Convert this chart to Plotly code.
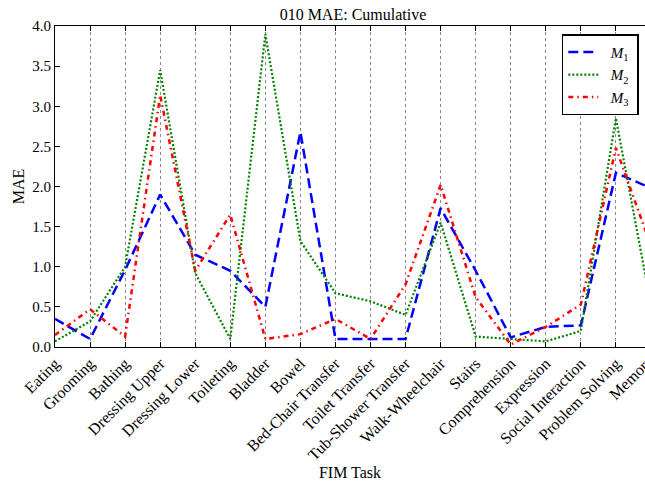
import plotly.graph_objects as go

categories = ["Eating", "Grooming", "Bathing", "Dressing Upper", "Dressing Lower",
              "Toileting", "Bladder", "Bowel", "Bed-Chair Transfer", "Toilet Transfer",
              "Tub-Shower Transfer", "Walk-Wheelchair", "Stairs", "Comprehension",
              "Expression", "Social Interaction", "Problem Solving", "Memory"]

m1 = [0.35, 0.10, 0.96, 1.90, 1.15, 0.95, 0.50, 2.68, 0.10, 0.10, 0.10, 1.73,
      0.95, 0.12, 0.25, 0.27, 2.17, 1.98]
m2 = [0.07, 0.32, 1.00, 3.45, 0.92, 0.10, 3.90, 1.32, 0.67, 0.57, 0.40, 1.55,
      0.13, 0.10, 0.07, 0.20, 2.85, 0.52]
m3 = [0.15, 0.47, 0.13, 3.14, 0.95, 1.65, 0.10, 0.16, 0.35, 0.10, 0.78, 2.02,
      0.62, 0.03, 0.25, 0.53, 2.48, 1.26]

y_ticks = [0.0, 0.5, 1.0, 1.5, 2.0, 2.5, 3.0, 3.5, 4.0]
x_max = 16.83  # visible part of the (cropped) axis

FONT = "Liberation Serif"
TICK_SIZE = 16
NB = "\u00a0\u00a0"

fig = go.Figure()
fig.add_trace(go.Scatter(x=categories, y=m1, mode="lines", name=NB + "<i>M</i><sub>1</sub>\u00a0",
                         line=dict(color="#0000ff", width=2.5, dash="10px,5px")))
fig.add_trace(go.Scatter(x=categories, y=m2, mode="lines", name=NB + "<i>M</i><sub>2</sub>\u00a0",
                         line=dict(color="#008000", width=2.2, dash="2px,2px")))
fig.add_trace(go.Scatter(x=categories, y=m3, mode="lines", name=NB + "<i>M</i><sub>3</sub>\u00a0",
                         line=dict(color="#ff0000", width=2.5, dash="5px,4px,1.5px,4px")))

# last category label falls outside the visible range (cropped like the original)
fig.add_annotation(text=categories[-1], xref="paper", yref="paper",
                   x=(len(categories) - 1) / x_max, y=0, xanchor="right", yanchor="top",
                   textangle=-45, showarrow=False, yshift=-2, xshift=9,
                   font=dict(family=FONT, size=TICK_SIZE, color="black"))

fig.update_layout(
    width=645, height=482,
    margin=dict(l=55, r=0, t=26, b=135),
    paper_bgcolor="white", plot_bgcolor="white",
    font=dict(family=FONT, size=TICK_SIZE, color="black"),
    title=dict(text="010 MAE: Cumulative", x=(len(categories) - 1) / 2 / x_max, xref="paper",
               xanchor="center", y=1 - 14 / 482, yref="container", yanchor="middle",
               font=dict(family=FONT, size=16, color="black")),
    showlegend=True,
    legend=dict(x=0.859, y=0.974, xanchor="left", yanchor="top",
                bordercolor="black", borderwidth=1.5, bgcolor="white",
                font=dict(family=FONT, size=15, color="black"),
                itemwidth=30, tracegroupgap=0),
)
fig.update_xaxes(
    type="category", categoryarray=categories, range=[0, x_max],
    tickangle=-45, ticks="inside", ticklen=5, tickcolor="black",
    showline=True, linecolor="black", linewidth=1, mirror="allticks",
    showgrid=True, gridcolor="#888888", griddash="dot", gridwidth=1,
    tickfont=dict(family=FONT, size=TICK_SIZE, color="black"),
    title=dict(text="FIM Task", font=dict(family=FONT, size=16, color="black"), standoff=3),
    zeroline=False, automargin=False,
)
fig.update_yaxes(
    range=[0, 4.0], tickvals=y_ticks, ticktext=[f"{v:.1f}" for v in y_ticks],
    ticks="inside", ticklen=5, tickcolor="black",
    showline=True, linecolor="black", linewidth=1, mirror=False,
    showgrid=False, zeroline=False,
    tickfont=dict(family=FONT, size=15, color="black"),
    title=dict(text="MAE", font=dict(family=FONT, size=16, color="black"), standoff=3),
    automargin=False,
)

fig.write_html("out.html", config={"displayModeBar": False},
               post_script="document.body.style.margin='0';")
